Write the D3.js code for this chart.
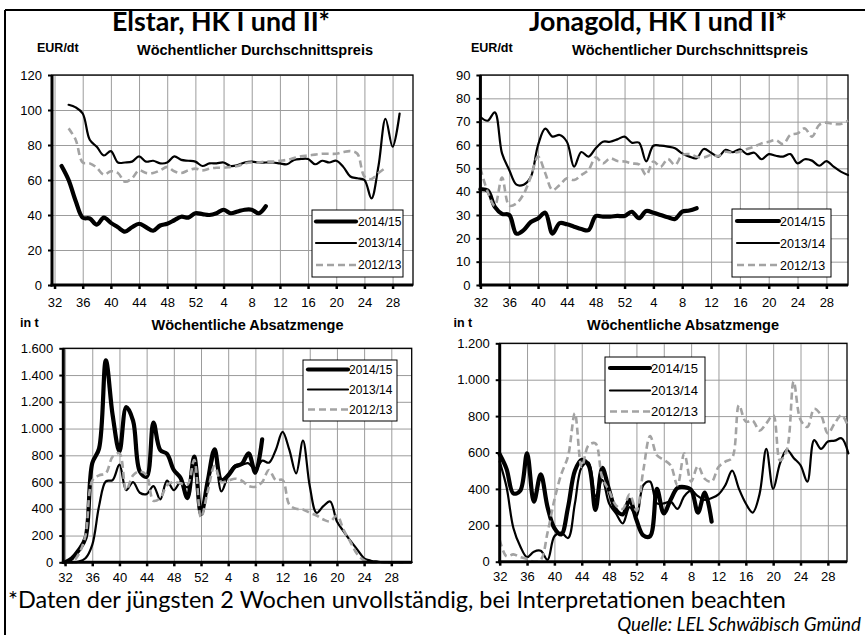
<!DOCTYPE html>
<html>
<head>
<meta charset="utf-8">
<script src="https://cdn.jsdelivr.net/npm/d3@7"></script>
<style>
  body { margin: 0; background: #fff; }
  svg text { font-family: "Liberation Sans", Arial, sans-serif; fill: #000; }
  .hum { font-family: Lato, "Open Sans", sans-serif; }
</style>
</head>
<body>
<svg id="chart" width="865" height="635"></svg>
<script>
// ---------------- DATA ----------------
const weeks = [32,33,34,35,36,37,38,39,40,41,42,43,44,45,46,47,48,49,50,51,52,
               1,2,3,4,5,6,7,8,9,10,11,12,13,14,15,16,17,18,19,20,21,22,23,24,25,26,27,28,29,30,31];
const tickWeeks = [32,36,40,44,48,52,4,8,12,16,20,24,28];
const seasons = ["2014/15", "2013/14", "2012/13"];

const titles = ["Elstar, HK I und II*", "Jonagold, HK I und II*"];
const priceUnit = "EUR/dt", priceHeader = "Wöchentlicher Durchschnittspreis";
const volUnit = "in t", volHeader = "Wöchentliche Absatzmenge";
const footNote = "*Daten der jüngsten 2 Wochen unvollständig, bei Interpretationen beachten";
const source = "Quelle: LEL Schwäbisch Gmünd";

const elstarPriceTicks = [0,20,40,60,80,100,120];
const jonaPriceTicks = [0,10,20,30,40,50,60,70,80,90];
const elstarVolTicks = [0,200,400,600,800,1000,1200,1400,1600];
const jonaVolTicks = [0,200,400,600,800,1000,1200];

// Elstar price (EUR/dt), weeks 32..52, 1..31
const elstarPrice1415 = [null,68,60,48,38.5,38,34.5,38.5,35.5,33,30.5,33,35,33,31,34,35,37,39,38.5,41,
  40.5,40,41,43,41,42,43,43,41,45,
  null,null,null,null,null,null,null,null,null,null,null,null,null,null,null,null,null,null,null,null,null];
const elstarPrice1314 = [null,null,103,101.5,98,83,79,74,76.5,70,70,70.5,73.5,70.5,71,69.5,70,73.5,71.5,71,70.5,
  68,69.5,69.5,70,68,68.5,70,70.5,70,70,70,69.5,69,71.5,72,72,69,71,70,71,67.5,62,61,60,49.5,68,95,79,98,null,null];
const elstarPrice1213 = [null,null,89.5,83,70,69.5,67,63,65,64,59,61,65.5,64,64,65.5,67.5,65,64,65.5,66.5,
  65.5,66.5,67,67,67.5,68,69.5,70,70,70.5,70.5,71,71.5,72.5,73.5,74,74.5,75,75,75,76,76.5,75,62,60.5,64,67,null,null,null,null];

// Jonagold price (EUR/dt)
const jonaPrice1415 = [41,40.5,33.5,30.5,30,22,23.5,27,28.5,31,22,26.5,26,25,24,23.5,29.5,29.3,29.3,29.6,29.6,
  31.4,28.6,31.7,31,30,29,28.3,31.4,31.9,32.9,
  null,null,null,null,null,null,null,null,null,null,null,null,null,null,null,null,null,null,null,null,null];
const jonaPrice1314 = [72,70.4,74,56.4,49.3,43,43,46.4,60,67,63.6,64.3,61.4,50.7,57,55,58.6,61.4,61.4,62.4,63.6,
  61,61,53,59.7,59.7,59.3,58.6,56.4,55,54.3,58.3,56.7,55,57.9,56.9,58.1,56.1,56.7,53.9,56.1,55.4,55,56.1,52.1,53.9,53.3,51.1,53.1,50.7,48.6,47.1];
const jonaPrice1213 = [50,40,34,46,34,35,39,46.4,55,47.9,40.7,42.9,45.7,45,47.1,49.3,54.7,52.1,54.3,53.1,52.9,
  52.1,51.7,47.1,52.9,50.7,54,51.4,55.7,56.1,55,54.7,55.7,55.3,57.1,56.7,57.1,58.3,59.3,60.7,61.4,62.1,60.4,64.3,65,67.1,63.6,68.6,69.6,69,69,70.4];

// Elstar volume (t)
const elstarVol1415 = [0,30,90,180,740,850,1510,1100,830,1160,1060,680,640,1045,840,810,690,630,480,790,360,
  610,845,615,650,715,735,815,670,920,
  null,null,null,null,null,null,null,null,null,null,null,null,null,null,null,null,null,null,null,null,null,null];
const elstarVol1314 = [0,0,5,30,130,420,605,615,730,540,600,520,510,570,470,610,540,600,560,760,400,
  570,800,530,650,725,730,740,690,760,745,840,975,840,665,910,570,370,420,455,305,230,160,95,30,12,5,0,0,0,0,0];
const elstarVol1213 = [0,0,60,200,610,650,665,790,815,540,650,680,650,460,480,575,600,590,580,765,335,
  530,720,600,610,625,610,570,565,600,690,615,615,430,400,395,370,350,320,305,350,240,150,60,15,0,0,0,0,0,0,0];

// Jonagold volume (t)
const jonaVol1415 = [590,510,375,390,595,330,480,300,185,150,300,500,560,530,285,515,395,285,260,340,230,
  145,140,400,265,340,405,410,395,270,380,220,
  null,null,null,null,null,null,null,null,null,null,null,null,null,null,null,null,null,null,null,null];
const jonaVol1314 = [550,410,185,85,25,55,60,10,140,160,130,320,520,545,360,450,320,265,210,300,250,
  420,440,320,320,330,290,360,390,360,340,350,370,420,500,400,320,270,370,620,400,540,615,570,530,440,668,620,660,665,678,595];
const jonaVol1213 = [120,30,40,25,15,0,10,160,340,480,580,815,520,640,650,460,390,310,290,370,280,
  500,690,585,560,530,420,595,440,525,455,440,520,550,570,860,770,775,720,760,805,555,615,990,780,740,840,805,705,760,805,740];

// ---------------- LAYOUT / STYLE ----------------
const svg = d3.select("#chart");
const dotFmt = d3.formatLocale({decimal: ",", thousands: ".", grouping: [3], currency: ["", "€"]}).format(",d");
const seriesStyle = [
  {stroke: "#000", width: 4.2, dash: null},
  {stroke: "#000", width: 2.2, dash: null},
  {stroke: "#a3a3a3", width: 2.6, dash: "7,4"}
];

// outer frame (top & left edges visible)
svg.append("line").attr("x1", 5).attr("x2", 865).attr("y1", 10).attr("y2", 10).attr("stroke", "#000").attr("stroke-width", 2);
svg.append("line").attr("x1", 5).attr("x2", 5).attr("y1", 10).attr("y2", 635).attr("stroke", "#000").attr("stroke-width", 2);

function fitText(sel, target) {
  const n = sel.node();
  const fs = parseFloat(sel.attr("font-size"));
  const w = n.getComputedTextLength();
  sel.attr("font-size", (fs * target / w).toFixed(2));
}

const panels = [
  {left: 52, right: 413, top: 75, bottom: 285, xDom: [-0.36, 50.9], yMax: 120, yTicks: elstarPriceTicks,
   series: [elstarPrice1415, elstarPrice1314, elstarPrice1213], fmt: d => d, pad: 9,
   unit: priceUnit, unitX: 37, unitY: 52, header: priceHeader, headerX: 255, headerY: 55, headerW: 236,
   legend: {x: 312, y: 210, w: 91, h: 67, rows: [11.5, 33, 55], lx0: 4, lx1: 44, tx: 46, fs: 12}},
  {left: 480.4, right: 848, top: 75, bottom: 285, xDom: [0, 51], yMax: 90, yTicks: jonaPriceTicks,
   series: [jonaPrice1415, jonaPrice1314, jonaPrice1213], fmt: d => d, pad: 9,
   unit: priceUnit, unitX: 471, unitY: 52, header: priceHeader, headerX: 690, headerY: 55, headerW: 236,
   legend: {x: 732, y: 209, w: 99, h: 68, rows: [12, 34, 56], lx0: 5, lx1: 47, tx: 48, fs: 12.5}},
  {left: 63.3, right: 411.7, top: 348.3, bottom: 562.3, xDom: [-0.26, 51], yMax: 1600, yTicks: elstarVolTicks,
   series: [elstarVol1415, elstarVol1314, elstarVol1213], fmt: dotFmt, pad: 6.5,
   unit: volUnit, unitX: 20, unitY: 327, header: volHeader, headerX: 247.5, headerY: 330, headerW: 192,
   legend: {x: 303, y: 360, w: 94, h: 61, rows: [9.5, 29.5, 49.5], lx0: 5, lx1: 45, tx: 46, fs: 12}},
  {left: 499.7, right: 847, top: 343.3, bottom: 561.7, xDom: [0, 50.8], yMax: 1200, yTicks: jonaVolTicks,
   series: [jonaVol1415, jonaVol1314, jonaVol1213], fmt: dotFmt, pad: 6.5,
   unit: volUnit, unitX: 453.5, unitY: 327, header: volHeader, headerX: 683, headerY: 330, headerW: 192,
   legend: {x: 605, y: 357, w: 100, h: 66, rows: [11, 33.5, 54.5], lx0: 5, lx1: 45, tx: 46, fs: 13}}
];

panels.forEach(p => {
  const g = svg.append("g");
  const x = d3.scaleLinear().domain(p.xDom).range([p.left, p.right]);
  const y = d3.scaleLinear().domain([0, p.yMax]).range([p.bottom, p.top]);
  const tickIdx = tickWeeks.map(w => weeks.indexOf(w));
  const W = p.right - p.left, H = p.bottom - p.top;

  // header texts
  g.append("text").attr("x", p.unitX).attr("y", p.unitY).attr("font-size", 12.5).attr("font-weight", "bold").text(p.unit);
  const hd = g.append("text").attr("x", p.headerX).attr("y", p.headerY).attr("text-anchor", "middle")
    .attr("font-size", 13).attr("font-weight", "bold").text(p.header);
  fitText(hd, p.headerW);

  // gridlines
  g.append("g").attr("transform", `translate(0,${p.bottom})`)
    .call(d3.axisBottom(x).tickValues(tickIdx).tickSize(-H).tickFormat(""))
    .call(a => a.select(".domain").remove())
    .call(a => a.selectAll("line").attr("stroke", "#9c9c9c").attr("stroke-width", 1));
  g.append("g").attr("transform", `translate(${p.left},0)`)
    .call(d3.axisLeft(y).tickValues(p.yTicks).tickSize(-W).tickFormat(""))
    .call(a => a.select(".domain").remove())
    .call(a => a.selectAll("line").attr("stroke", "#9c9c9c").attr("stroke-width", 1));

  // plot border
  g.append("rect").attr("x", p.left).attr("y", p.top).attr("width", W).attr("height", H)
    .attr("fill", "none").attr("stroke", "#000").attr("stroke-width", 1.3);

  // series lines
  p.series.forEach((vals, si) => {
    const st = seriesStyle[si];
    const line = d3.line()
      .defined(d => d != null)
      .x((d, i) => x(i))
      .y(d => y(d))
      .curve(d3.curveCatmullRom.alpha(0.5));
    g.append("path").attr("d", line(vals))
      .attr("fill", "none").attr("stroke", st.stroke).attr("stroke-width", st.width)
      .attr("stroke-dasharray", st.dash).attr("stroke-linejoin", "round").attr("stroke-linecap", si === 2 ? "butt" : "round");
  });

  // axes
  const xa = g.append("g").attr("transform", `translate(0,${p.bottom})`)
    .call(d3.axisBottom(x).tickValues(tickIdx).tickSize(4).tickSizeOuter(0).tickPadding(p.pad).tickFormat(i => weeks[i]));
  xa.select(".domain").attr("stroke-width", 3).attr("d", `M${p.left - 1.5},0H${p.right}`);
  xa.selectAll(".tick line").attr("stroke-width", 2.5);
  xa.selectAll(".tick text").attr("font-size", 13).attr("font-family", '"Liberation Sans", Arial, sans-serif');

  const ya = g.append("g").attr("transform", `translate(${p.left},0)`)
    .call(d3.axisLeft(y).tickValues(p.yTicks).tickSize(4).tickSizeOuter(0).tickPadding(6).tickFormat(p.fmt));
  ya.select(".domain").attr("stroke-width", 3).attr("d", `M0,${p.top}V${p.bottom + 1.5}`);
  ya.selectAll(".tick line").attr("stroke-width", 2);
  ya.selectAll(".tick text").attr("font-size", 13).attr("font-family", '"Liberation Sans", Arial, sans-serif');

  // legend
  const L = p.legend;
  const lg = g.append("g").attr("transform", `translate(${L.x},${L.y})`);
  lg.append("rect").attr("width", L.w).attr("height", L.h).attr("fill", "#fff").attr("stroke", "#000").attr("stroke-width", 1);
  seasons.forEach((s, si) => {
    const st = seriesStyle[si];
    lg.append("line").attr("x1", L.lx0).attr("x2", L.lx1).attr("y1", L.rows[si]).attr("y2", L.rows[si])
      .attr("stroke", st.stroke).attr("stroke-width", st.width).attr("stroke-dasharray", st.dash)
      .attr("stroke-linecap", si === 2 ? "butt" : "round");
    lg.append("text").attr("x", L.tx).attr("y", L.rows[si]).attr("dy", "0.36em")
      .attr("font-size", L.fs).text(s);
  });
});

// titles
const t1 = svg.append("text").attr("class", "hum").attr("x", 221).attr("y", 31).attr("text-anchor", "middle")
  .attr("font-size", 22).attr("font-weight", "bold").text(titles[0]);
fitText(t1, 218);
const t2 = svg.append("text").attr("class", "hum").attr("x", 658).attr("y", 31).attr("text-anchor", "middle")
  .attr("font-size", 22).attr("font-weight", "bold").text(titles[1]);
fitText(t2, 258);

// footer
const f1 = svg.append("text").attr("class", "hum").attr("x", 8).attr("y", 607.5).attr("font-size", 20).text(footNote);
fitText(f1, 778);
const f2 = svg.append("text").attr("class", "hum").attr("x", 861).attr("y", 630.5).attr("text-anchor", "end")
  .attr("font-size", 19).attr("font-style", "italic").text(source);
fitText(f2, 244);
</script>
</body>
</html>
